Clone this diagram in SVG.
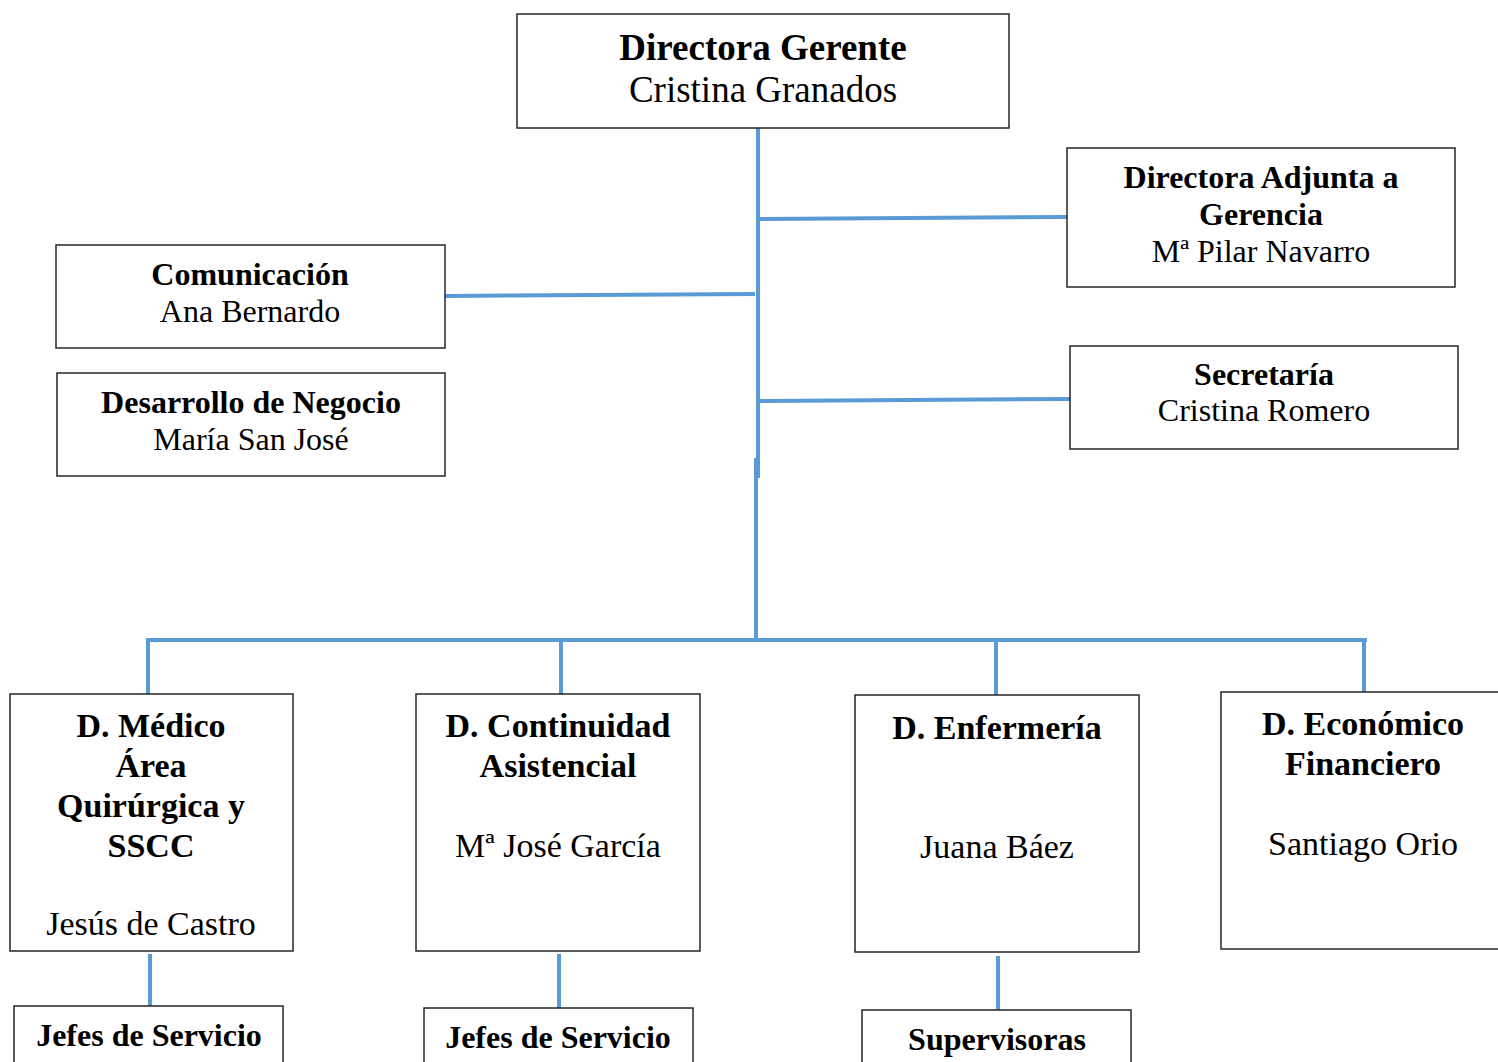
<svg xmlns="http://www.w3.org/2000/svg" width="1498" height="1062" viewBox="0 0 1498 1062">
<style>
.box{fill:#fff;stroke:#262626;stroke-width:1.5}
.c{stroke:#5b9bd5;stroke-width:4;fill:none}
text{font-family:"Liberation Serif","Times New Roman",serif;text-anchor:middle;fill:#000}
.b{font-weight:bold}
.t1{font-size:37px}
.t2{font-size:32px}
.t3{font-size:34px}
</style>
<rect width="1498" height="1062" fill="#fff"/>
<g id="connectors">
<line class="c" x1="758" y1="128" x2="758" y2="478"/>
<line class="c" x1="756" y1="458" x2="756" y2="640"/>
<line class="c" x1="758" y1="219" x2="1067" y2="217"/>
<line class="c" x1="445" y1="296" x2="755" y2="294"/>
<line class="c" x1="758" y1="401" x2="1070" y2="399"/>
<line class="c" x1="146" y1="640" x2="1367" y2="640"/>
<line class="c" x1="148" y1="640" x2="148" y2="694"/>
<line class="c" x1="561" y1="640" x2="561" y2="694"/>
<line class="c" x1="996" y1="640" x2="996" y2="695"/>
<line class="c" x1="1364" y1="640" x2="1364" y2="692"/>
<line class="c" x1="150" y1="954" x2="150" y2="1006"/>
<line class="c" x1="559" y1="954" x2="559" y2="1008"/>
<line class="c" x1="998" y1="956" x2="998" y2="1010"/>
</g>
<g id="n-gerente">
<rect class="box" x="517" y="14" width="492" height="114"/>
<text class="b t1" x="763" y="60">Directora Gerente</text>
<text class="t1" x="763" y="102">Cristina Granados</text>
</g>
<g id="n-adjunta">
<rect class="box" x="1067" y="148" width="388" height="139"/>
<text class="b t2" x="1261" y="188">Directora Adjunta a</text>
<text class="b t2" x="1261" y="225">Gerencia</text>
<text class="t2" x="1261" y="262">Mª Pilar Navarro</text>
</g>
<g id="n-comunicacion">
<rect class="box" x="56" y="245" width="389" height="103"/>
<text class="b t2" x="250" y="285">Comunicación</text>
<text class="t2" x="250" y="322">Ana Bernardo</text>
</g>
<g id="n-desarrollo">
<rect class="box" x="57" y="373" width="388" height="103"/>
<text class="b t2" x="251" y="413">Desarrollo de Negocio</text>
<text class="t2" x="251" y="450">María San José</text>
</g>
<g id="n-secretaria">
<rect class="box" x="1070" y="346" width="388" height="103"/>
<text class="b t2" x="1264" y="385">Secretaría</text>
<text class="t2" x="1264" y="421">Cristina Romero</text>
</g>
<g id="n-medico">
<rect class="box" x="10" y="694" width="283" height="257"/>
<text class="b t3" x="151" y="737">D. Médico</text>
<text class="b t3" x="151" y="777">Área</text>
<text class="b t3" x="151" y="817">Quirúrgica y</text>
<text class="b t3" x="151" y="857">SSCC</text>
<text class="t3" x="151" y="935">Jesús de Castro</text>
</g>
<g id="n-continuidad">
<rect class="box" x="416" y="694" width="284" height="257"/>
<text class="b t3" x="558" y="737">D. Continuidad</text>
<text class="b t3" x="558" y="777">Asistencial</text>
<text class="t3" x="558" y="857">Mª José García</text>
</g>
<g id="n-enfermeria">
<rect class="box" x="855" y="695" width="284" height="257"/>
<text class="b t3" x="997" y="739">D. Enfermería</text>
<text class="t3" x="997" y="858">Juana Báez</text>
</g>
<g id="n-economico">
<rect class="box" x="1221" y="692" width="290" height="257"/>
<text class="b t3" x="1363" y="735">D. Económico</text>
<text class="b t3" x="1363" y="775">Financiero</text>
<text class="t3" x="1363" y="855">Santiago Orio</text>
</g>
<g id="n-jefes1">
<rect class="box" x="14" y="1006" width="269" height="70"/>
<text class="b t2" x="149" y="1046">Jefes de Servicio</text>
</g>
<g id="n-jefes2">
<rect class="box" x="424" y="1008" width="269" height="70"/>
<text class="b t2" x="558" y="1048">Jefes de Servicio</text>
</g>
<g id="n-supervisoras">
<rect class="box" x="862" y="1010" width="269" height="70"/>
<text class="b t2" x="997" y="1050">Supervisoras</text>
</g>
</svg>
